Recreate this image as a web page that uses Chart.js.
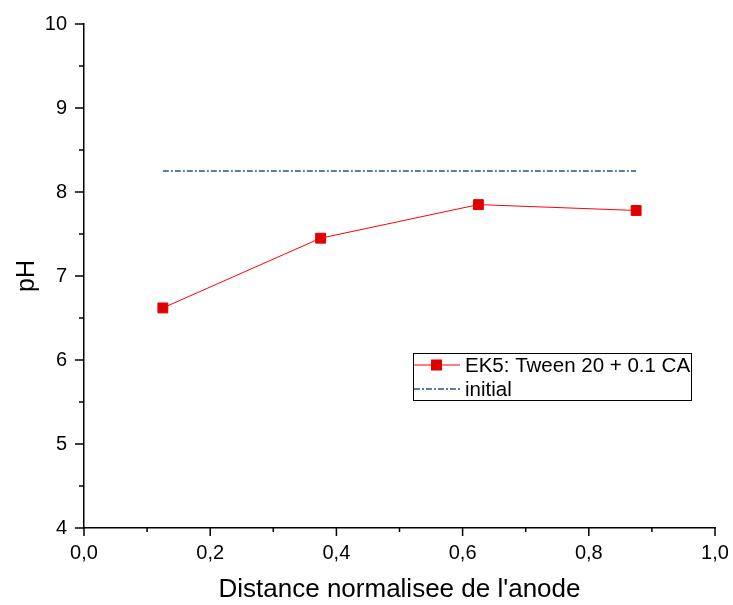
<!DOCTYPE html>
<html>
<head>
<meta charset="utf-8">
<script src="https://cdn.jsdelivr.net/npm/chart.js@4"></script>
<style>
html,body{margin:0;padding:0;background:#fff;}
canvas{display:block;}
</style>
</head>
<body>
<canvas id="c" width="733" height="605"></canvas>
<script>
// ---- data ----
const distance = [0.125, 0.375, 0.625, 0.875];
const phEK5 = [6.62, 7.45, 7.85, 7.78];
const initialDistance = [0.125, 0.875];
const initialPH = [8.25, 8.25];
const seriesLabels = ['EK5: Tween 20 + 0.1 CA', 'initial'];
const xTickValues = [0, 0.2, 0.4, 0.6, 0.8, 1.0];
const yTickValues = [4, 5, 6, 7, 8, 9, 10];

const FONT = "'Liberation Sans', Arial, sans-serif";
const INIT_COLOR = '#2c5283';

const tickMarks = {
  id: 'tickMarks',
  afterDraw(chart) {
    const ctx = chart.ctx;
    const xs = chart.scales.x, ys = chart.scales.y;
    ctx.save();
    ctx.strokeStyle = '#000';
    ctx.lineWidth = 1.5;
    for (let i = 0; i <= 10; i++) {
      const v = i / 10;
      const px = xs.getPixelForValue(v);
      const len = (i % 2 === 0) ? 8 : 4;
      ctx.beginPath();
      ctx.moveTo(px, xs.top);
      ctx.lineTo(px, xs.top + len);
      ctx.stroke();
    }
    for (let i = 0; i <= 12; i++) {
      const v = 4 + i / 2;
      const py = ys.getPixelForValue(v);
      const len = (i % 2 === 0) ? 9 : 5;
      ctx.beginPath();
      ctx.moveTo(ys.right, py);
      ctx.lineTo(ys.right - len, py);
      ctx.stroke();
    }
    ctx.restore();
  }
};

const boxLegend = {
  id: 'boxLegend',
  afterDraw(chart) {
    const ctx = chart.ctx;
    const left = 413, top = 353, right = 691, bottom = 400;
    ctx.save();
    ctx.fillStyle = '#fff';
    ctx.fillRect(left, top, right - left, bottom - top);
    ctx.strokeStyle = '#000';
    ctx.lineWidth = 1;
    ctx.strokeRect(left + 0.5, top + 0.5, right - left, bottom - top);
    const rows = [365, 389];
    chart.data.datasets.forEach((ds, i) => {
      const y = rows[i];
      ctx.save();
      ctx.strokeStyle = ds.borderColor;
      ctx.lineWidth = ds.borderWidth;
      ctx.setLineDash(ds.borderDash || []);
      ctx.beginPath();
      ctx.moveTo(left + 1, y);
      ctx.lineTo(left + 47, y);
      ctx.stroke();
      ctx.restore();
      if (ds.pointRadius > 0) {
        ctx.fillStyle = ds.pointBackgroundColor;
        ctx.fillRect(left + 18, y - 5.5, 11, 11);
      }
      ctx.fillStyle = '#000';
      ctx.font = '20.5px ' + FONT;
      ctx.textBaseline = 'middle';
      ctx.textAlign = 'left';
      ctx.fillText(ds.label, left + 52, y + 1);
    });
    ctx.restore();
  }
};

new Chart(document.getElementById('c'), {
  type: 'line',
  data: {
    datasets: [
      {
        label: seriesLabels[0],
        data: distance.map((x, i) => ({ x: x, y: phEK5[i] })),
        borderColor: '#ff0000',
        borderWidth: 1,
        pointStyle: 'rect',
        pointRadius: 7,
        pointBorderWidth: 1,
        pointBackgroundColor: '#e00000',
        pointBorderColor: '#e00000',
        tension: 0
      },
      {
        label: seriesLabels[1],
        data: initialDistance.map((x, i) => ({ x: x, y: initialPH[i] })),
        borderColor: INIT_COLOR,
        borderWidth: 1.3,
        borderDash: [6, 2, 2, 2],
        pointRadius: 0,
        tension: 0
      }
    ]
  },
  options: {
    responsive: false,
    animation: false,
    layout: { padding: { left: 0, top: 24, right: 18, bottom: 0 } },
    plugins: { legend: { display: false }, tooltip: { enabled: false } },
    scales: {
      x: {
        type: 'linear',
        min: 0, max: 1,
        afterFit(s) { s.height = 77; s.paddingLeft = 0; s.paddingRight = 0; },
        afterBuildTicks(s) { s.ticks = xTickValues.map(v => ({ value: v })); },
        grid: { display: false, drawTicks: false },
        border: { display: true, color: '#000', width: 1.5 },
        ticks: {
          color: '#000',
          padding: 13,
          maxRotation: 0,
          font: { family: FONT, size: 20 },
          callback: v => v.toFixed(1).replace('.', ',')
        },
        title: {
          display: true,
          text: "Distance normalisee de l'anode",
          color: '#000',
          font: { family: FONT, size: 26 },
          padding: { top: 0, bottom: 0 }
        }
      },
      y: {
        type: 'linear',
        min: 4, max: 10,
        afterFit(s) { s.width = 84; s.paddingTop = 0; s.paddingBottom = 0; },
        afterBuildTicks(s) { s.ticks = yTickValues.map(v => ({ value: v })); },
        grid: { display: false, drawTicks: false },
        border: { display: true, color: '#000', width: 1.5 },
        ticks: {
          color: '#000',
          padding: 17,
          font: { family: FONT, size: 20 },
          callback: v => String(v)
        },
        title: {
          display: true,
          text: 'pH',
          color: '#000',
          font: { family: FONT, size: 25 },
          padding: { top: 12, bottom: 0 }
        }
      }
    }
  },
  plugins: [tickMarks, boxLegend]
});
</script>
</body>
</html>
